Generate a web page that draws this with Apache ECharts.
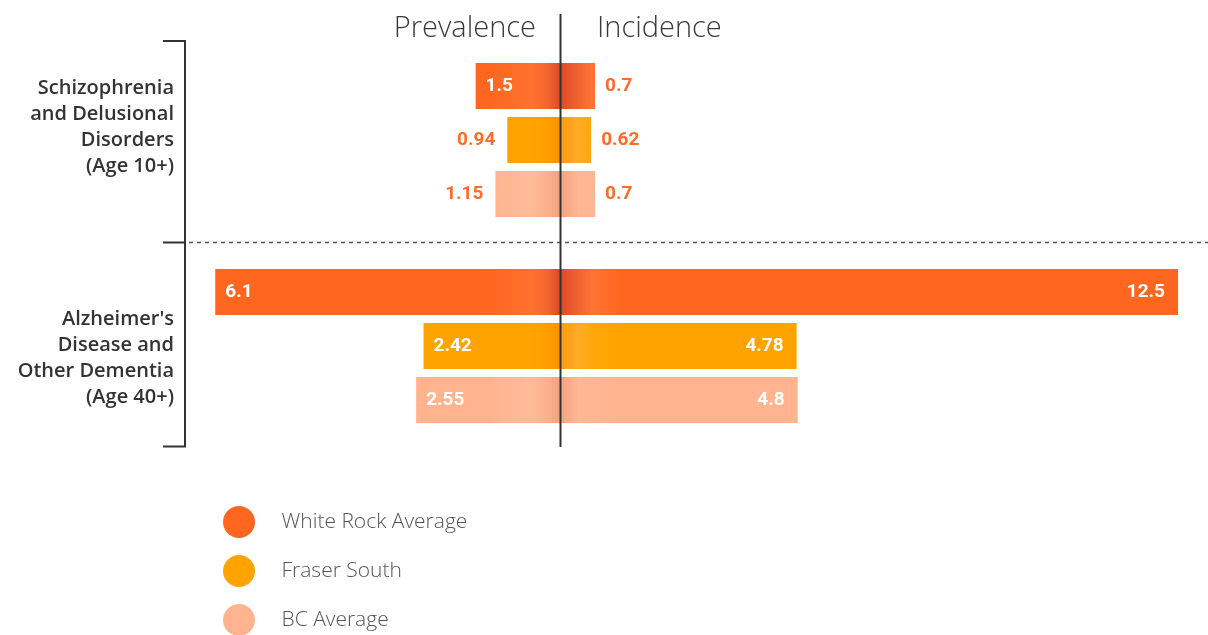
<!DOCTYPE html>
<html>
<head>
<meta charset="utf-8">
<script src="https://cdn.jsdelivr.net/npm/echarts@6/dist/echarts.min.js"></script>
<style>
  html, body { margin: 0; padding: 0; background: #ffffff; }
  #chart { width: 1208px; height: 635px; }
</style>
</head>
<body>
<div id="chart"></div>
<script>
// Regions compared in each condition group (top to bottom)
const regions = ['White Rock Average', 'Fraser South', 'BC Average'];
const regionColors = ['#FF6720', '#FFA300', '#FFB48F'];

// Condition groups, drawn as stacked lines on the left
const groupLabels = [
  ['Schizophrenia', 'and Delusional', 'Disorders', '(Age 10+)'],
  ["Alzheimer's", 'Disease and', 'Other Dementia', '(Age 40+)']
];

// Rates per region, in the same order as `regions`
const schizoPrevalence = [1.5, 0.94, 1.15];
const schizoIncidence = [0.7, 0.62, 0.7];
const dementiaPrevalence = [6.1, 2.42, 2.55];
const dementiaIncidence = [12.5, 4.78, 4.8];

const sideTitles = ['Prevalence', 'Incidence'];

// ---- layout -------------------------------------------------------------
const W = 1208;
const CX = 560.5;                 // shared zero line between the two sides
const LEFT_MAX = 7, LEFT_PX = 56.6;   // px per unit, prevalence side
const RIGHT_MAX = 13, RIGHT_PX = 49.4; // px per unit, incidence side
const BAND = 54, BAR_W = 46;
const groupTops = [59, 265];

const FONT = '"Open Sans", Lato, sans-serif';
const NUM_FONT = 'Roboto, sans-serif';

// soft shading where the bars meet the centre line
const shadeLeft = [
  ['#FF6720', '#FF7231', '#F3652F', '#DA4822'],
  ['#FFA300', '#FFA300', '#FF9E00', '#FF9000'],
  ['#FFB48F', '#FFBB99', '#FBB08C', '#F2A17E']
];
const shadeRight = [
  ['#DC4A24', '#F26331', '#FF7433', '#FF6720'],
  ['#FF9A12', '#FFAC24', '#FFA708', '#FFA300'],
  ['#F3A280', '#FFB894', '#FFB692', '#FFB48F']
];
function leftGradient(i) {
  const s = shadeLeft[i];
  return { type: 'linear', global: true, x: 490, y: 0, x2: CX, y2: 0,
    colorStops: [{ offset: 0, color: s[0] }, { offset: 0.6, color: s[1] },
                 { offset: 0.82, color: s[2] }, { offset: 1, color: s[3] }] };
}
function rightGradient(i) {
  const s = shadeRight[i];
  return { type: 'linear', global: true, x: CX, y: 0, x2: CX + 60, y2: 0,
    colorStops: [{ offset: 0, color: s[0] }, { offset: 0.3, color: s[1] },
                 { offset: 0.55, color: s[2] }, { offset: 1, color: s[3] }] };
}

const grids = [], xAxes = [], yAxes = [], series = [];

function addPanel(values, side, groupIdx) {
  const gi = grids.length;
  const isLeft = side === 'left';
  const width = isLeft ? LEFT_MAX * LEFT_PX : RIGHT_MAX * RIGHT_PX;
  grids.push({
    left: isLeft ? CX - width : CX,
    width: width,
    top: groupTops[groupIdx],
    height: BAND * regions.length
  });
  xAxes.push({ gridIndex: gi, type: 'value', min: 0, max: isLeft ? LEFT_MAX : RIGHT_MAX,
               inverse: isLeft, show: false });
  yAxes.push({ gridIndex: gi, type: 'category', data: regions, inverse: true, show: false });
  const pxPerUnit = isLeft ? LEFT_PX : RIGHT_PX;
  regions.forEach(function (name, i) {
    const v = values[i];
    const inside = v * pxPerUnit > 75;
    const label = inside
      ? { show: true, position: isLeft ? 'insideLeft' : 'insideRight',
          distance: isLeft ? 10 : 13, color: '#ffffff' }
      : { show: true, position: isLeft ? 'left' : 'right',
          distance: isLeft ? 12 : 10, color: '#FF6B2B' };
    series.push({
      name: name,
      type: 'bar',
      xAxisIndex: gi,
      yAxisIndex: gi,
      stack: 'panel' + gi,
      barWidth: BAR_W,
      itemStyle: { color: isLeft ? leftGradient(i) : rightGradient(i) },
      label: Object.assign({ fontFamily: NUM_FONT, fontSize: 19, fontWeight: 'bold' }, label),
      emphasis: { disabled: true },
      data: regions.map(function (_, j) { return j === i ? v : '-'; })
    });
  });
}

addPanel(schizoPrevalence, 'left', 0);
addPanel(schizoIncidence, 'right', 0);
addPanel(dementiaPrevalence, 'left', 1);
addPanel(dementiaIncidence, 'right', 1);

// group brackets, separator, centre line and group labels
const INK = '#333333';
const graphics = [
  { type: 'line', shape: { x1: 185, y1: 41, x2: 185, y2: 447 }, style: { stroke: INK, lineWidth: 2 }, z: 10 },
  { type: 'line', shape: { x1: 163, y1: 41, x2: 186, y2: 41 }, style: { stroke: INK, lineWidth: 2 }, z: 10 },
  { type: 'line', shape: { x1: 163, y1: 242.5, x2: 186, y2: 242.5 }, style: { stroke: INK, lineWidth: 2 }, z: 10 },
  { type: 'line', shape: { x1: 163, y1: 446.5, x2: 186, y2: 446.5 }, style: { stroke: INK, lineWidth: 2 }, z: 10 },
  { type: 'line', shape: { x1: 189, y1: 242.5, x2: W, y2: 242.5 },
    style: { stroke: '#555555', lineWidth: 1.5, lineDash: [4, 4] }, z: 10 },
  { type: 'line', shape: { x1: CX, y1: 14, x2: CX, y2: 447 }, style: { stroke: INK, lineWidth: 2 }, z: 100 }
];
const groupLabelCenters = [127.5, 358.5];
groupLabels.forEach(function (lines, g) {
  graphics.push({
    type: 'text', x: 174, y: groupLabelCenters[g], z: 10,
    style: {
      text: lines.join('\n'), align: 'right', verticalAlign: 'middle',
      fill: INK, font: '600 20px ' + FONT, lineHeight: 26
    }
  });
});

const option = {
  animation: false,
  backgroundColor: '#ffffff',
  title: [
    { text: sideTitles[0], right: W - 536, top: 14, padding: 0,
      textStyle: { fontFamily: FONT, fontWeight: 300, fontSize: 29, color: '#3a3a3a' } },
    { text: sideTitles[1], left: 597, top: 14, padding: 0,
      textStyle: { fontFamily: FONT, fontWeight: 300, fontSize: 29, color: '#3a3a3a' } }
  ],
  legend: {
    orient: 'vertical',
    left: 223,
    top: 506,
    height: 200,
    padding: 0,
    icon: 'circle',
    itemWidth: 33,
    itemHeight: 32,
    itemGap: 17,
    selectedMode: false,
    textStyle: { fontFamily: FONT, fontWeight: 300, fontSize: 21, color: '#555555', padding: [0, 0, 0, 21] },
    data: regions.map(function (name, i) {
      return { name: name, itemStyle: { color: regionColors[i] } };
    })
  },
  grid: grids,
  xAxis: xAxes,
  yAxis: yAxes,
  series: series,
  graphic: graphics
};

const chart = echarts.init(document.getElementById('chart'), null, { renderer: 'canvas' });
chart.setOption(option);
</script>
</body>
</html>
